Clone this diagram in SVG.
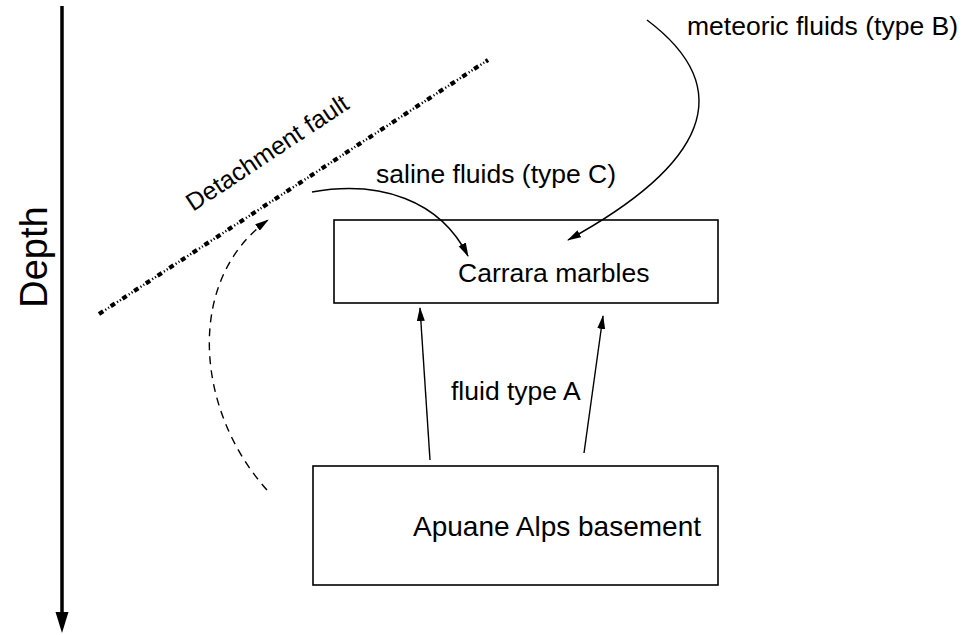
<svg xmlns="http://www.w3.org/2000/svg" width="965" height="635" viewBox="0 0 965 635">
<style>
text{font-family:"Liberation Sans",Arial,sans-serif;fill:#000}
.lbl{font-size:26.5px}
.box{fill:none;stroke:#000;stroke-width:1.6}
.arr{fill:none;stroke:#000;stroke-width:1.4}
</style>
<defs>
<marker id="ah" markerUnits="userSpaceOnUse" markerWidth="14" markerHeight="10" viewBox="0 0 14 10" refX="13" refY="5" orient="auto">
<path d="M0,1 L14,5 L0,9 Z" fill="#000"/>
</marker>
</defs>
<g id="depth-axis">
<line x1="62" y1="6" x2="62" y2="613" stroke="#000" stroke-width="3.5"/>
<path d="M55.5,612 L68.5,612 L62,633 Z" fill="#000"/>
<text style="font-size:38px" transform="translate(47,257) rotate(-90)" text-anchor="middle">Depth</text>
</g>
<g id="detachment-fault">
<line x1="99" y1="314" x2="488" y2="60" stroke="#000" stroke-width="4.2" stroke-dasharray="5 9"/>
<line x1="99" y1="314" x2="488" y2="60" stroke="#000" stroke-width="2.4" stroke-dasharray="0 7.5 1.2 2.2 1.2 1.9"/>
<text style="font-size:25px" transform="translate(193,212) rotate(-33.5)">Detachment fault</text>
</g>
<g id="carrara">
<rect class="box" x="334" y="220" width="384" height="83"/>
<text class="lbl" x="458" y="282">Carrara marbles</text>
</g>
<g id="apuane">
<rect class="box" x="313" y="466" width="405" height="119"/>
<text style="font-size:28px" x="413" y="536">Apuane Alps basement</text>
</g>
<g id="connectors">
<path class="arr" d="M647,20 C740,90 705,165 568,240" marker-end="url(#ah)"/>
<path class="arr" d="M312,192 C380,180 440,200 468,256" marker-end="url(#ah)"/>
<path class="arr" d="M267,490 C195,410 185,280 268,220" stroke-dasharray="8 6" marker-end="url(#ah)"/>
<line class="arr" x1="430" y1="460" x2="420" y2="308" marker-end="url(#ah)"/>
<line class="arr" x1="584" y1="453" x2="603" y2="316" marker-end="url(#ah)"/>
</g>
<g id="labels">
<text class="lbl" x="687" y="35">meteoric fluids (type B)</text>
<text class="lbl" x="376" y="183">saline fluids (type C)</text>
<text class="lbl" x="451" y="400">fluid type A</text>
</g>
</svg>
